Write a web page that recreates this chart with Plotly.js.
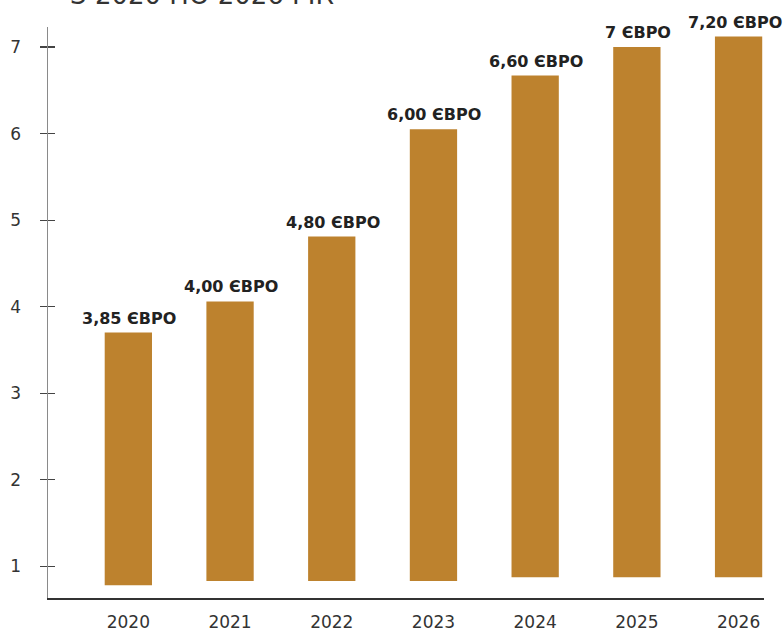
<!DOCTYPE html>
<html>
<head>
<meta charset="utf-8">
<script src="https://cdn.plot.ly/plotly-3.0.1.min.js"></script>
<style>html,body{margin:0;padding:0;background:#fff;}#chart{width:784px;height:631px;}</style>
</head>
<body>
<div id="chart"></div>
<script>
// Data
const years = ["2020", "2021", "2022", "2023", "2024", "2025", "2026"];
const barTops = [3.70, 4.06, 4.81, 6.05, 6.67, 7.00, 7.12];
const barBases = [0.78, 0.83, 0.83, 0.83, 0.875, 0.875, 0.875];
const priceLabels = ["3,85 ЄВРО", "4,00 ЄВРО", "4,80 ЄВРО", "6,00 ЄВРО", "6,60 ЄВРО", "7 ЄВРО", "7,20 ЄВРО"];
const yTicks = [1, 2, 3, 4, 5, 6, 7];
const titleText = "З 2020 ПО 2026 РІК";

const barColor = "#bd822e";
const yRange = [0.634, 7.231];

const trace = {
  type: "bar",
  x: years,
  base: barBases,
  y: barTops.map((t, i) => t - barBases[i]),
  width: 0.465,
  marker: { color: barColor, line: { width: 0 } },
  hoverinfo: "skip"
};
const ghost = {
  type: "scatter", mode: "none", x: [years[0]], y: [yTicks[0]], yaxis: "y2",
  showlegend: false, hoverinfo: "skip"
};

const annotations = years.map((yr, i) => ({
  x: i, y: barTops[i], xref: "x", yref: "y",
  text: "<b>" + priceLabels[i] + "</b>", showarrow: false,
  xanchor: "center", yanchor: "bottom", yshift: 3,
  xshift: i === years.length - 1 ? -4 : 1,
  font: { family: "DejaVu Sans", size: 16, color: "#222222" }
}));
annotations.push({
  x: 0.028, y: 1.0, xref: "paper", yref: "paper",
  xanchor: "left", yanchor: "bottom", yshift: 15,
  text: titleText, showarrow: false,
  font: { family: "DejaVu Sans", size: 26, color: "#333333" }
});

const layout = {
  width: 784, height: 631,
  margin: { l: 48, r: 20, t: 27, b: 33, pad: 0 },
  paper_bgcolor: "#ffffff", plot_bgcolor: "#ffffff",
  showlegend: false,
  bargap: 0.535,
  xaxis: {
    type: "category",
    range: [-0.79, 6.25],
    showgrid: false, zeroline: false,
    showline: true, linecolor: "#333333", linewidth: 1.5,
    ticks: "", ticklabelstandoff: 8,
    tickfont: { family: "DejaVu Sans", size: 17, color: "#333333" }
  },
  yaxis: {
    range: yRange,
    tickvals: yTicks,
    ticktext: yTicks.map(String),
    showgrid: false, zeroline: false,
    showline: true, linecolor: "#8a8a8a", linewidth: 1.5,
    ticks: "outside", ticklen: 7, tickwidth: 1.2, tickcolor: "#444444",
    ticklabelstandoff: 15,
    tickfont: { family: "DejaVu Sans", size: 17, color: "#333333" }
  },
  yaxis2: {
    overlaying: "y", side: "left",
    range: yRange,
    tickvals: yTicks,
    showgrid: false, zeroline: false, showline: false,
    ticks: "inside", ticklen: 7, tickwidth: 1.2, tickcolor: "#444444",
    showticklabels: false
  },
  annotations: annotations
};

Plotly.newPlot("chart", [trace, ghost], layout, { displayModeBar: false, staticPlot: true });
</script>
</body>
</html>
